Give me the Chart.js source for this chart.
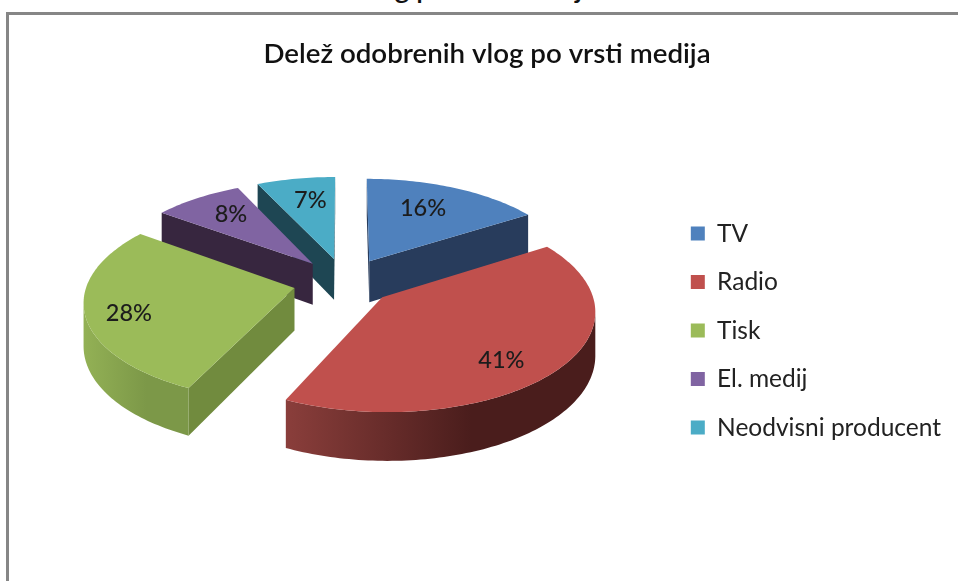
<!DOCTYPE html>
<html>
<head>
<meta charset="utf-8">
<script src="https://cdn.jsdelivr.net/npm/chart.js@4"></script>
<style>
html,body{margin:0;padding:0;background:#fff;width:958px;height:581px;overflow:hidden}
#frame{position:absolute;left:6px;top:12px;width:960px;height:600px;border:3px solid #868686;box-sizing:border-box}
#clip{position:absolute;left:0;top:0;width:958px;height:9px;overflow:hidden}
#clip div{position:absolute;left:150px;top:-29px;font:600 27.7px Lato;color:#111;white-space:nowrap}
#wrap{position:absolute;left:0;top:0;width:958px;height:581px}
canvas{filter:blur(.45px)}
</style>
</head>
<body>
<div id="clip"><div>Delež odobrenih vlog po vrsti medija</div></div>
<div id="frame"></div>
<div id="wrap"><canvas id="c"></canvas></div>
<script>
const titleText = 'Delež odobrenih vlog po vrsti medija';
const categories = ['TV', 'Radio', 'Tisk', 'El. medij', 'Neodvisni producent'];
const shares = [16, 41, 28, 8, 7];
const colors = ['#4f81bd', '#c0504d', '#9bbb59', '#8064a2', '#4bacc6'];
const wallColors = ['#283c5c', '#4a1d1c', '#718b3e', '#37263f', '#1e4653'];
const rimLeft = ['#283c5c', '#8a3e3b', '#93b155', '#37263f', '#1e4653'];
const rimRight = ['#283c5c', '#4a1d1c', '#7c9848', '#37263f', '#1e4653'];
const explode = [0.25, 0.235, 0.25, 0.25, 0.25];
const paintOrder = [4, 3, 0, 2, 1];
const labelRadius = [0.65, 0.81, 0.794, 0.67, 0.654];
const labelTurn = [0, 8, -7, 1, 3];
const labelNudge = {x: -4, y: -4};
const view = {cx: 345, cy: 282, a: 207, b: 97, g: 0.12, depth: 42};

function project(u, v) {
  const w = 1 - view.g * v;
  return {x: view.cx + view.a * u / w, y: view.cy + view.b * v / w, d: view.depth / w};
}
function slicePoints(arc, i) {
  const mid = (arc.startAngle + arc.endAngle) / 2;
  const e = explode[i];
  const ou = e * Math.cos(mid), ov = e * Math.sin(mid);
  const pts = [project(ou, ov)];
  const n = Math.max(8, Math.ceil((arc.endAngle - arc.startAngle) / 0.02));
  for (let k = 0; k <= n; k++) {
    const t = arc.startAngle + (arc.endAngle - arc.startAngle) * k / n;
    pts.push(project(ou + Math.cos(t), ov + Math.sin(t)));
  }
  return pts;
}
const pie3d = {
  id: 'pie3d',
  beforeDatasetDraw(chart) {
    const ctx = chart.ctx;
    const arcs = chart.getDatasetMeta(0).data;
    for (const i of paintOrder) {
      const pts = slicePoints(arcs[i], i);
      const walls = [[pts[0], pts[1]], [pts[pts.length - 1], pts[0]]];
      for (const [p, q] of walls) {
        if (q.x < p.x) {
          ctx.beginPath();
          ctx.moveTo(p.x, p.y); ctx.lineTo(q.x, q.y);
          ctx.lineTo(q.x, q.y + q.d); ctx.lineTo(p.x, p.y + p.d);
          ctx.closePath();
          ctx.fillStyle = wallColors[i];
          ctx.fill();
        }
      }
      const rim = [];
      for (let k = 1; k < pts.length - 1; k++) {
        if (pts[k + 1].x < pts[k].x) {
          if (!rim.length) rim.push(pts[k]);
          rim.push(pts[k + 1]);
        }
      }
      if (rim.length > 1) {
        const xs = rim.map(p => p.x);
        const lo = Math.min(...xs), hi = Math.max(...xs);
        const grad = ctx.createLinearGradient(lo, 0, lo + (hi - lo) * 0.6, 0);
        grad.addColorStop(0, rimLeft[i]);
        grad.addColorStop(1, rimRight[i]);
        ctx.beginPath();
        rim.forEach((p, k) => k ? ctx.lineTo(p.x, p.y) : ctx.moveTo(p.x, p.y));
        for (let k = rim.length - 1; k >= 0; k--) ctx.lineTo(rim[k].x, rim[k].y + rim[k].d);
        ctx.closePath();
        ctx.fillStyle = grad;
        ctx.fill();
      }
      ctx.beginPath();
      pts.forEach((p, k) => k ? ctx.lineTo(p.x, p.y) : ctx.moveTo(p.x, p.y));
      ctx.closePath();
      ctx.fillStyle = colors[i];
      ctx.fill();
    }
    ctx.save();
    ctx.font = '500 23.5px Lato';
    ctx.fillStyle = '#1c1c1c';
    ctx.textAlign = 'center';
    ctx.textBaseline = 'middle';
    arcs.forEach((arc, i) => {
      const mid = (arc.startAngle + arc.endAngle) / 2;
      const t = mid + labelTurn[i] * Math.PI / 180;
      const u = explode[i] * Math.cos(mid) + labelRadius[i] * Math.cos(t);
      const v = explode[i] * Math.sin(mid) + labelRadius[i] * Math.sin(t);
      const p = project(u, v);
      ctx.fillText(shares[i] + '%', p.x + labelNudge.x, p.y + labelNudge.y);
    });
    ctx.restore();
    return false;
  }
};
new Chart(document.getElementById('c'), {
  type: 'pie',
  data: {labels: categories, datasets: [{data: shares, backgroundColor: colors, borderWidth: 0}]},
  plugins: [pie3d],
  options: {
    responsive: true,
    maintainAspectRatio: false,
    animation: false,
    layout: {padding: {top: 37, left: 23, right: 7, bottom: 0}},
    plugins: {
      tooltip: {enabled: false},
      title: {display: true, text: titleText, color: '#111', font: {family: 'Lato', size: 27.7, weight: 600}, padding: {top: 0, bottom: 10}},
      legend: {
        position: 'right',
        fullSize: false,
        labels: {boxWidth: 14, boxHeight: 14, padding: 24, color: '#222', font: {family: 'Lato', size: 24.5}}
      }
    }
  }
});
</script>
</body>
</html>
